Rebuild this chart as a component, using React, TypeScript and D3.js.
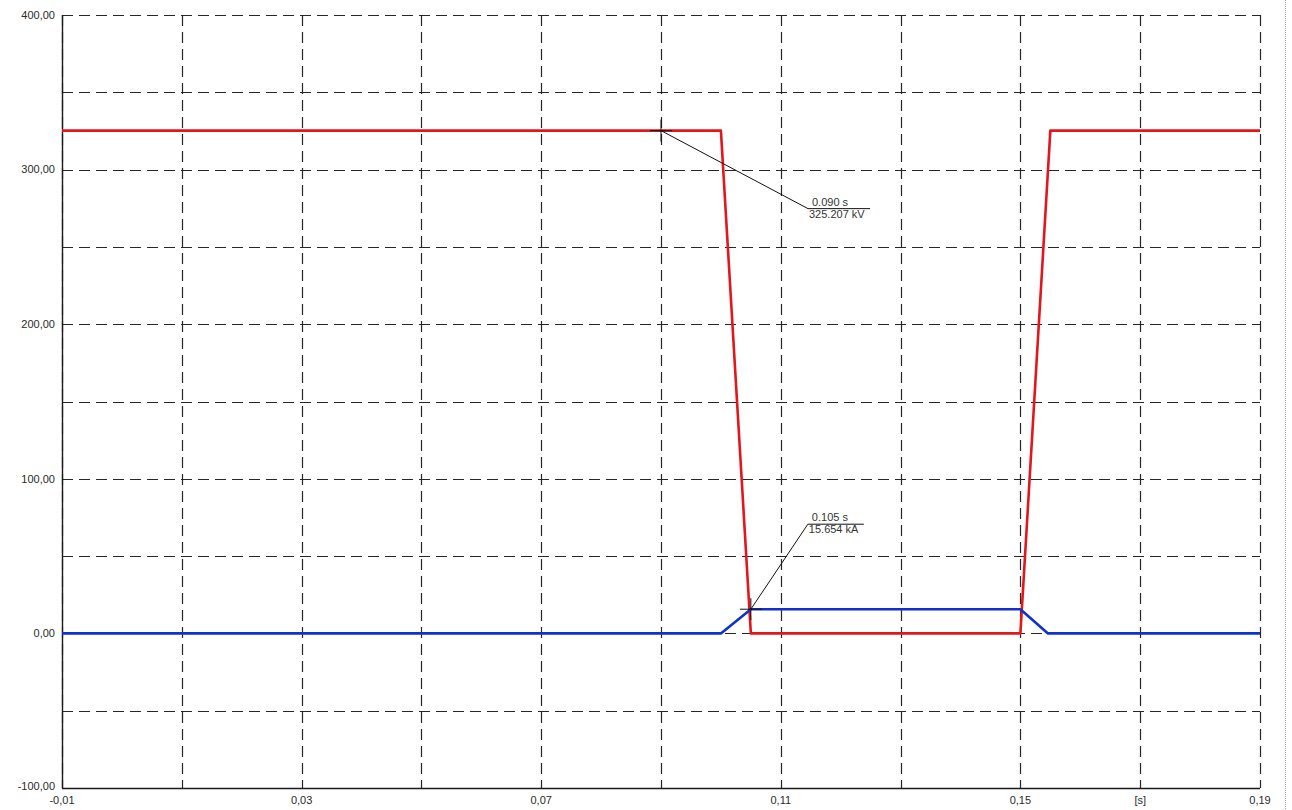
import * as d3 from 'd3';

// time axis [s]
const timeDomain = [-0.01, 0.19];
const timeGrid = [-0.01, 0.01, 0.03, 0.05, 0.07, 0.09, 0.11, 0.13, 0.15, 0.17, 0.19];
const timeLabels = [-0.01, 0.03, 0.07, 0.11, 0.15, 0.19];
const unitLabelAt = 0.17;
const unitLabel = '[s]';

// value axis
const valueDomain = [-100, 400];
const valueGrid = [-100, -50, 0, 50, 100, 150, 200, 250, 300, 350, 400];
const valueLabels = [-100, 0, 100, 200, 300, 400];

// voltage (red) trace
const voltageT = [-0.01, 0.1, 0.105, 0.15, 0.155, 0.19];
const voltageV = [325.207, 325.207, 0, 0, 325.207, 325.207];

// current (blue) trace
const currentT = [-0.01, 0.1, 0.105, 0.15, 0.1546, 0.19];
const currentV = [0, 0, 15.654, 15.654, 0, 0];

// cursor readouts
const cursorT = [0.09, 0.105];
const cursorV = [325.207, 15.654];
const cursorLine1 = ['0.090 s', '0.105 s'];
const cursorLine2 = ['325.207 kV', '15.654 kA'];
const cursorOffset = [
  [147, 78],
  [57, -85],
];
const cursorUnderline = [62, 56];

const W = 1292;
const H = 810;
const margin = { left: 62, right: 32, top: 15, bottom: 22 };

export default function App() {
  const x = d3.scaleLinear().domain(timeDomain).range([margin.left, W - margin.right]);
  const y = d3.scaleLinear().domain(valueDomain).range([H - margin.bottom, margin.top]);
  const [x0, x1] = x.range();
  const [y0, y1] = y.range();

  const line = d3
    .line<[number, number]>()
    .x((d) => x(d[0]))
    .y((d) => y(d[1]));

  const voltage = voltageT.map((t, i) => [t, voltageV[i]] as [number, number]);
  const current = currentT.map((t, i) => [t, currentV[i]] as [number, number]);

  const fmt = (v: number) => d3.format('.2f')(v).replace('.', ',').replace('−', '-');
  const grid = '#262626';
  const font = 'Liberation Sans, Arial, sans-serif';

  return (
    <div style={{ position: 'absolute', left: 0, top: 0 }}>
      <svg width={W} height={H} viewBox={`0 0 ${W} ${H}`} style={{ display: 'block', background: '#fff' }}>
        {/* dashed grid */}
        <g stroke={grid} strokeWidth={1.2} strokeDasharray="11,6" fill="none">
          {valueGrid.map((v) => (
            <line key={'h' + v} x1={x0} x2={x1} y1={Math.round(y(v)) + 0.5} y2={Math.round(y(v)) + 0.5} />
          ))}
          {timeGrid.map((t) => (
            <line key={'v' + t} x1={Math.round(x(t)) + 0.5} x2={Math.round(x(t)) + 0.5} y1={y1} y2={y0} />
          ))}
        </g>

        {/* solid axes */}
        <g stroke="#1a1a1a" strokeWidth={1.4}>
          <line x1={x0 + 0.5} x2={x0 + 0.5} y1={y1} y2={y0} />
          <line x1={x0} x2={x1} y1={y0 + 0.5} y2={y0 + 0.5} />
        </g>

        {/* right dotted border */}
        <line x1={1285.5} x2={1285.5} y1={0} y2={H} stroke="#aaa" strokeWidth={1} strokeDasharray="1,1" />

        {/* y labels */}
        <g fontFamily={font} fontSize={11} fill="#2a2a2a" textAnchor="end">
          {valueLabels.map((v) => (
            <text key={v} x={55} y={v === valueDomain[0] ? y(v) - 2 : y(v)} dy="0.35em">
              {fmt(v)}
            </text>
          ))}
        </g>

        {/* x labels */}
        <g fontFamily={font} fontSize={11} fill="#2a2a2a" textAnchor="middle">
          {timeLabels.map((t) => (
            <text key={t} x={x(t)} y={y0 + 16}>
              {fmt(t)}
            </text>
          ))}
          <text x={x(unitLabelAt)} y={y0 + 16}>
            {unitLabel}
          </text>
        </g>

        {/* traces */}
        <path d={line(voltage) || ''} fill="none" stroke="#e3161b" strokeWidth={2.6} strokeLinejoin="round" />
        <path d={line(current) || ''} fill="none" stroke="#1030d0" strokeWidth={2.6} strokeLinejoin="round" />

        {/* cursor readouts */}
        {cursorT.map((t, i) => {
          const px = x(t);
          const py = y(cursorV[i]);
          const ax = px + cursorOffset[i][0];
          const ay = py + cursorOffset[i][1];
          return (
            <g key={i}>
              <g stroke="#111" strokeWidth={1}>
                <line x1={px - 11} x2={px + 11} y1={py} y2={py} />
                <line x1={px} x2={px} y1={py - 11} y2={py + 11} />
                <line x1={px} x2={ax} y1={py} y2={ay} />
                <line x1={ax} x2={ax + cursorUnderline[i]} y1={ay} y2={ay} />
              </g>
              <g fontFamily={font} fontSize={11} fill="#333">
                <text x={ax + 4} y={ay - 3}>
                  {cursorLine1[i]}
                </text>
                <text x={ax + 1} y={ay + 9}>
                  {cursorLine2[i]}
                </text>
              </g>
            </g>
          );
        })}
      </svg>
    </div>
  );
}
